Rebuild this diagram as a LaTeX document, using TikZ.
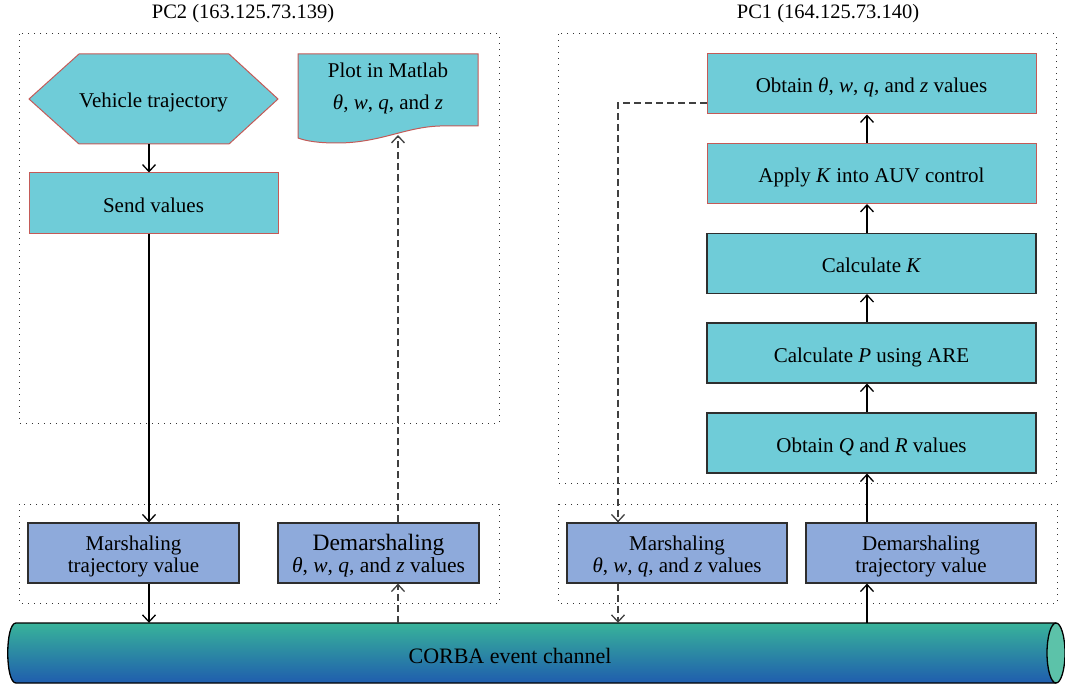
\documentclass[tikz,border=0pt]{standalone}
\usepackage{fontspec}
\setmainfont{Liberation Serif}
\usetikzlibrary{arrows.meta}
\definecolor{cyanfill}{HTML}{6FCCD8}
\definecolor{bluefill}{HTML}{8EAADB}
\definecolor{redline}{HTML}{C45A57}
\definecolor{darkline}{HTML}{2E2E2E}
\definecolor{cylTop}{HTML}{38B39A}
\definecolor{cylMid}{HTML}{3FC1D0}
\definecolor{cylBot}{HTML}{1F5DAE}
\definecolor{capfill}{HTML}{5CC2A9}
\newcommand{\tq}{\textit{θ}, \textit{w}, \textit{q}, and \textit{z}}
\begin{document}
\begin{tikzpicture}[x=1pt,y=-1pt,
  font=\fontsize{21}{22}\selectfont,
  onel/.style={text height=18pt, text depth=0pt},
  redbox/.style={onel, draw=redline, fill=cyanfill, line width=1pt, inner sep=0pt, minimum height=60pt},
  darkbox/.style={onel, draw=darkline, fill=cyanfill, line width=1.2pt, inner sep=0pt, minimum height=60pt},
  bluebox/.style={draw=darkline, fill=bluefill, line width=1.2pt, inner sep=0pt, minimum height=60pt, align=center, text height=38pt, text depth=0pt},
  region/.style={draw=black!80, line width=1pt, dash pattern=on 1.2pt off 4.8pt},
  flow/.style={line width=1.3pt, -{Straight Barb[length=7pt,width=13pt]}},
  dflow/.style={flow, draw=black!75, dash pattern=on 7pt off 4pt}
]
\useasboundingbox (0,0) rectangle (1065,687);

% titles
\node[anchor=base, font=\fontsize{20.5}{22}\selectfont] (pc2) at (243,19) {PC2 (163.125.73.139)};
\node[anchor=base, font=\fontsize{20.5}{22}\selectfont] (pc1) at (828,19) {PC1 (164.125.73.140)};

% regions
\draw[region] (19,34) rectangle (499,423);
\draw[region] (558,34) rectangle (1056,483);
\draw[region] (19,504) rectangle (499,603);
\draw[region] (558,504) rectangle (1057,603);

% columns
\coordinate (c1) at (149,0);
\coordinate (c2) at (398,0);
\coordinate (c3) at (618,0);
\coordinate (c4) at (867,0);

% hexagon
\filldraw[draw=redline, fill=cyanfill, line width=1pt]
  (29,99) -- (79,54) -- (229,54) -- (278,99) -- (229,144) -- (79,144) -- cycle;
\node[onel, minimum width=249pt, minimum height=90pt, inner sep=0pt] (veh) at (153.5,99) {Vehicle trajectory};

\node[redbox, minimum width=249pt] (send) at (153.5,203) {Send values};

% document shape
\filldraw[draw=redline, fill=cyanfill, line width=1pt]
  (298,54) -- (478,54) -- (478,126) -- (440,126)
  .. controls (405,127) and (380,143) .. (337,143)
  .. controls (318,143) and (306,141) .. (298,138) -- cycle;
\node[align=center, font=\fontsize{21}{32}\selectfont, text height=50pt, text depth=0pt, inner sep=0pt] (plot) at (388,85) {Plot in Matlab\\ \tq};
\coordinate (plotb) at (398,135);

% right column
\node[redbox, minimum width=329pt] (obt) at (871.5,84) {Obtain \tq{} values};
\node[redbox, minimum width=329pt] (apply) at (871.5,173.5) {Apply \textit{K} into AUV control};
\node[darkbox, minimum width=329pt] (calck) at (871.5,263.5) {Calculate \textit{K}};
\node[darkbox, minimum width=329pt] (calcp) at (871.5,353) {Calculate \textit{P} using ARE};
\node[darkbox, minimum width=329pt] (obtq) at (871.5,443) {Obtain \textit{Q} and \textit{R} values};

% bottom boxes
\node[bluebox, minimum width=211pt] (mar1) at (133.5,553) {Marshaling\\trajectory value};
\node[bluebox, minimum width=201pt] (dem1) at (378.5,553) {{\fontsize{23.5}{22}\selectfont Demarshaling}\\{\fontsize{21.5}{22}\selectfont\tq{} values}};
\node[bluebox, minimum width=220pt] (mar2) at (677,553) {Marshaling\\\tq{} values};
\node[bluebox, minimum width=230pt] (dem2) at (921,553) {Demarshaling\\trajectory value};

% cylinder
\shade[top color=cylTop, middle color=cylMid, bottom color=cylBot]
  (1056,623) -- (16,623) .. controls (5,623) and (5,683) .. (16,683) -- (1056,683) -- cycle;
\draw[line width=1.3pt]
  (1056,623) -- (16,623) .. controls (5,623) and (5,683) .. (16,683) -- (1056,683);
\filldraw[fill=capfill, line width=1.3pt] (1056,653) ellipse [x radius=9, y radius=30];
\node[minimum height=60pt, inner sep=0pt, text height=20pt, text depth=0pt, font=\fontsize{22}{24}\selectfont] (corba) at (510,653) {CORBA event channel};

% connectors
\draw[flow] (veh.south -| c1) -- (send.north -| c1);
\draw[flow] (send.south -| c1) -- (mar1.north -| c1);
\draw[flow] (mar1.south -| c1) -- (corba.north -| c1);
\draw[dflow] (corba.north -| c2) -- (dem1.south -| c2);
\draw[dflow] (dem1.north -| c2) -- (plotb);
\draw[dflow] ([yshift=-19pt]obt.west) -| (mar2.north -| c3);
\draw[dflow] (mar2.south -| c3) -- (corba.north -| c3);
\draw[flow] (corba.north -| c4) -- (dem2.south -| c4);
\draw[flow] (dem2.north -| c4) -- (obtq.south -| c4);
\draw[flow] (obtq.north -| c4) -- (calcp.south -| c4);
\draw[flow] (calcp.north -| c4) -- (calck.south -| c4);
\draw[flow] (calck.north -| c4) -- (apply.south -| c4);
\draw[flow] (apply.north -| c4) -- (obt.south -| c4);
\end{tikzpicture}
\end{document}
